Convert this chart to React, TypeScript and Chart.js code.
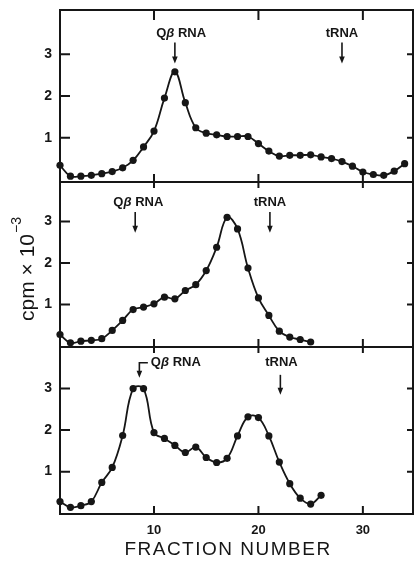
import React, { useEffect, useRef } from "react";
import { Chart, registerables } from "chart.js";

Chart.register(...registerables);

// cpm x 10^-3 per fraction (fractions start at 1)
const topValues = [0.34, 0.08, 0.08, 0.1, 0.14, 0.19, 0.28, 0.46, 0.78, 1.16, 1.95, 2.58, 1.84, 1.24, 1.11, 1.07, 1.03, 1.03, 1.03, 0.86, 0.68, 0.56, 0.58, 0.58, 0.59, 0.54, 0.5, 0.43, 0.32, 0.18, 0.12, 0.1, 0.2, 0.38];
const middleValues = [0.28, 0.08, 0.12, 0.14, 0.18, 0.38, 0.62, 0.88, 0.94, 1.02, 1.18, 1.14, 1.34, 1.48, 1.82, 2.38, 3.1, 2.82, 1.88, 1.16, 0.74, 0.36, 0.22, 0.16, 0.1];
const bottomValues = [0.28, 0.14, 0.18, 0.28, 0.74, 1.1, 1.87, 3.0, 3.0, 1.94, 1.8, 1.63, 1.46, 1.59, 1.34, 1.22, 1.32, 1.86, 2.32, 2.3, 1.86, 1.23, 0.71, 0.36, 0.22, 0.43];

const yTickValues = [1, 2, 3];
const xTickValues = [10, 20, 30];
const xTitle = "FRACTION NUMBER";
const yTitleMain = "cpm × 10";
const yTitleSup = "−3";
const qbLabel = "Qβ RNA";
const tLabel = "tRNA";

// marker arrows (fraction number, and cpm levels of label / arrow start / arrow tip)
const topMarkers = [
  { label: qbLabel, x: 12, labelX: 12.6, labelY: 3.5, from: 3.28, to: 2.78 },
  { label: tLabel, x: 28, labelX: 28, labelY: 3.5, from: 3.28, to: 2.78 },
];
const middleMarkers = [
  { label: qbLabel, x: 8.2, labelX: 8.5, labelY: 3.47, from: 3.23, to: 2.73 },
  { label: tLabel, x: 21.1, labelX: 21.1, labelY: 3.47, from: 3.23, to: 2.73 },
];
const bottomMarkers = [
  { label: qbLabel, x: 8.6, labelX: 9.7, labelY: 3.62, from: 3.62, to: 3.26, elbow: true },
  { label: tLabel, x: 22.1, labelX: 22.2, labelY: 3.62, from: 3.33, to: 2.85 },
];

const INK = "#161616";
const FONT = "'Liberation Sans', Arial, Helvetica, sans-serif";

function toPoints(values: number[]) {
  return values.map((v, i) => ({ x: i + 1, y: v }));
}

function drawRichLabel(ctx: CanvasRenderingContext2D, text: string, x: number, y: number, align: "center" | "left") {
  const pieces = text.split("β");
  const parts: { t: string; it: boolean }[] = [];
  pieces.forEach((p, i) => {
    if (i > 0) parts.push({ t: "β", it: true });
    if (p) parts.push({ t: p, it: false });
  });
  const fontFor = (it: boolean) => `${it ? "italic " : ""}bold 13px ${FONT}`;
  let total = 0;
  for (const p of parts) {
    ctx.font = fontFor(p.it);
    total += ctx.measureText(p.t).width;
  }
  let cx = align === "center" ? x - total / 2 : x;
  ctx.textBaseline = "middle";
  ctx.textAlign = "left";
  for (const p of parts) {
    ctx.font = fontFor(p.it);
    ctx.fillText(p.t, cx, y);
    cx += ctx.measureText(p.t).width;
  }
}

function arrowHead(ctx: CanvasRenderingContext2D, x: number, y: number) {
  ctx.beginPath();
  ctx.moveTo(x, y);
  ctx.lineTo(x - 2.8, y - 7);
  ctx.lineTo(x + 2.8, y - 7);
  ctx.closePath();
  ctx.fill();
}

const panelPlugin = {
  id: "panelDecor",
  afterDraw(chart: any, _args: any, opts: any) {
    const { ctx, chartArea: a } = chart;
    const x = chart.scales.x;
    const y = chart.scales.y;
    ctx.save();
    ctx.strokeStyle = INK;
    ctx.fillStyle = INK;
    ctx.lineWidth = 2;
    ctx.strokeRect(a.left, a.top, a.right - a.left, a.bottom - a.top);
    ctx.beginPath();
    for (const v of yTickValues) {
      const py = y.getPixelForValue(v);
      ctx.moveTo(a.left, py);
      ctx.lineTo(a.left + 10, py);
      ctx.moveTo(a.right, py);
      ctx.lineTo(a.right - 6, py);
    }
    for (const v of xTickValues) {
      const px = x.getPixelForValue(v);
      ctx.moveTo(px, a.top);
      ctx.lineTo(px, a.top + opts.topTick);
      ctx.moveTo(px, a.bottom);
      ctx.lineTo(px, a.bottom - 8);
    }
    ctx.stroke();

    // markers
    ctx.lineWidth = 1.6;
    for (const m of opts.markers) {
      const ax = x.getPixelForValue(m.x);
      const ly = y.getPixelForValue(m.labelY);
      const fy = y.getPixelForValue(m.from);
      const ty = y.getPixelForValue(m.to);
      if (m.elbow) {
        const lx = x.getPixelForValue(m.labelX);
        drawRichLabel(ctx, m.label, lx, ly, "left");
        ctx.beginPath();
        ctx.moveTo(lx - 3, ly);
        ctx.lineTo(ax, ly);
        ctx.lineTo(ax, ty - 5);
        ctx.stroke();
        arrowHead(ctx, ax, ty);
      } else {
        drawRichLabel(ctx, m.label, x.getPixelForValue(m.labelX), ly, "center");
        ctx.beginPath();
        ctx.moveTo(ax, fy);
        ctx.lineTo(ax, ty - 5);
        ctx.stroke();
        arrowHead(ctx, ax, ty);
      }
    }

    if (opts.yTitle) {
      const { cx, cy } = opts.yTitle;
      ctx.save();
      ctx.translate(cx, cy);
      ctx.rotate(-Math.PI / 2);
      ctx.font = `21px ${FONT}`;
      const w1 = ctx.measureText(yTitleMain).width;
      ctx.font = `14px ${FONT}`;
      const w2 = ctx.measureText(yTitleSup).width;
      const start = -(w1 + w2 + 1) / 2;
      ctx.textBaseline = "alphabetic";
      ctx.textAlign = "left";
      ctx.font = `21px ${FONT}`;
      ctx.fillText(yTitleMain, start, 8);
      ctx.font = `14px ${FONT}`;
      ctx.fillText(yTitleSup, start + w1 + 1, -5);
      ctx.restore();
    }
    if (opts.xTitle) {
      const { cx, cy } = opts.xTitle;
      ctx.font = `19px ${FONT}`;
      (ctx as any).letterSpacing = "1.5px";
      ctx.textAlign = "center";
      ctx.textBaseline = "middle";
      ctx.fillText(xTitle, cx, cy);
      (ctx as any).letterSpacing = "0px";
    }
    ctx.restore();
  },
};

function makeConfig(values: number[], cfg: any) {
  return {
    type: "line" as const,
    data: {
      datasets: [
        {
          data: toPoints(values),
          borderColor: INK,
          backgroundColor: INK,
          borderWidth: 1.8,
          pointRadius: 3.6,
          pointBackgroundColor: INK,
          pointBorderWidth: 0,
          tension: 0.4,
          clip: false as any,
          fill: false,
        },
      ],
    },
    options: {
      animation: false as const,
      responsive: false,
      maintainAspectRatio: false,
      layout: { padding: { left: 0, right: 5, top: cfg.padTop, bottom: cfg.padBottom } },
      plugins: {
        legend: { display: false },
        tooltip: { enabled: false },
        panelDecor: {
          markers: cfg.markers,
          topTick: cfg.topTick,
          yTitle: cfg.yTitle,
          xTitle: cfg.xTitle,
        },
      },
      scales: {
        x: {
          type: "linear" as const,
          min: 1,
          max: 34.8,
          display: cfg.showX,
          grid: { display: false, drawTicks: false },
          border: { display: false },
          afterBuildTicks: (s: any) => {
            s.ticks = xTickValues.map((v) => ({ value: v }));
          },
          afterFit: (s: any) => {
            if (cfg.showX) s.height = cfg.xHeight;
            s.paddingLeft = 0;
            s.paddingRight = 0;
          },
          ticks: {
            color: INK,
            padding: 9,
            font: { family: FONT, size: 13, weight: "bold" as const },
            maxRotation: 0,
            callback: (v: any) => String(v),
          },
        },
        y: {
          type: "linear" as const,
          position: "left" as const,
          min: cfg.yMin,
          max: cfg.yMax,
          grid: { display: false, drawTicks: false },
          border: { display: false },
          afterBuildTicks: (s: any) => {
            s.ticks = yTickValues.map((v) => ({ value: v }));
          },
          afterFit: (s: any) => {
            s.width = 60;
            s.paddingTop = 0;
            s.paddingBottom = 0;
          },
          ticks: {
            color: INK,
            padding: 8,
            font: { family: FONT, size: 14, weight: "bold" as const },
            callback: (v: any) => String(v),
          },
        },
      },
    },
    plugins: [panelPlugin],
  };
}

export default function App() {
  const r1 = useRef<HTMLCanvasElement>(null);
  const r2 = useRef<HTMLCanvasElement>(null);
  const r3 = useRef<HTMLCanvasElement>(null);

  useEffect(() => {
    const c1 = new Chart(
      r1.current!,
      makeConfig(topValues, {
        padTop: 10, padBottom: 8, yMin: -0.06, yMax: 4.06, markers: topMarkers, topTick: 10, showX: false,
      }) as any
    );
    const c2 = new Chart(
      r2.current!,
      makeConfig(middleValues, {
        padTop: 6, padBottom: 9, yMin: -0.02, yMax: 3.95, markers: middleMarkers, topTick: 6, showX: false,
        yTitle: { cx: 26, cy: 93 },
      }) as any
    );
    const c3 = new Chart(
      r3.current!,
      makeConfig(bottomValues, {
        padTop: 6, padBottom: 0, yMin: -0.02, yMax: 4.0, markers: bottomMarkers, topTick: 6, showX: true, xHeight: 48,
        xTitle: { cx: 228, cy: 209 },
      }) as any
    );
    return () => {
      c1.destroy();
      c2.destroy();
      c3.destroy();
    };
  }, []);

  const base: React.CSSProperties = { position: "absolute", left: 0, width: 418 };
  return (
    <div style={{ position: "absolute", left: 0, top: 0, width: 418, height: 562, background: "#fff" }}>
      <canvas ref={r1} width={418} height={190} style={{ ...base, top: 0, height: 190 }} />
      <canvas ref={r2} width={418} height={180} style={{ ...base, top: 176, height: 180 }} />
      <canvas ref={r3} width={418} height={221} style={{ ...base, top: 341, height: 221 }} />
    </div>
  );
}
